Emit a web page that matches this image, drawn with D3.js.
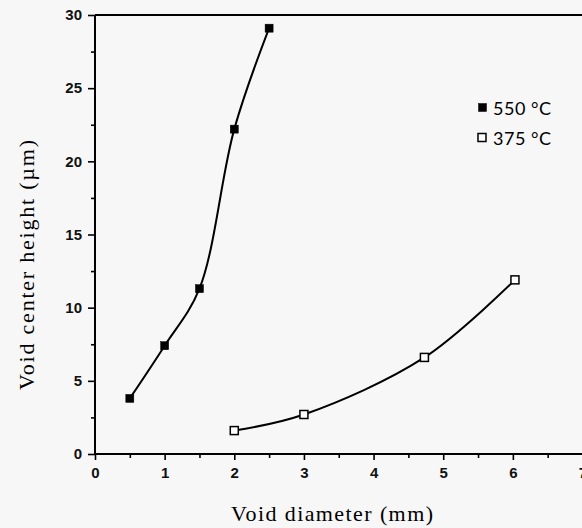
<!DOCTYPE html>
<html>
<head>
<meta charset="utf-8">
<script src="https://cdn.jsdelivr.net/npm/d3@7"></script>
<style>
  body { margin: 0; background: #f7f7f7; }
  svg { display: block; }
</style>
</head>
<body>
<div id="chart"></div>
<script>
let width = 582, height = 528,
    margin = ({ top: 15, right: 0, bottom: 74, left: 95 });

// data
const hot = { label: "550 °C", d: [0.5, 1.0, 1.5, 2.0, 2.5], h: [3.8, 7.4, 11.3, 22.2, 29.1] };
const cool = { label: "375 °C", d: [2.0, 3.0, 4.73, 6.03], h: [1.6, 2.7, 6.6, 11.9] };
const xTicks = [0, 1, 2, 3, 4, 5, 6, 7];
const yTicks = [0, 5, 10, 15, 20, 25, 30];
const xMinor = [0.5, 1.5, 2.5, 3.5, 4.5, 5.5, 6.5];
const yMinor = [2.5, 7.5, 12.5, 17.5, 22.5, 27.5];

const svg = d3.select("#chart")
  .append("svg")
  .attr("width", width)
  .attr("height", height);

let x = d3.scaleLinear()
  .domain([0, 7])
  .range([margin.left, 582 + 0.5]);

let y = d3.scaleLinear()
  .domain([0, 30])
  .range([height - margin.bottom, margin.top]);

// axes
const xAxis = svg.append("g")
  .attr("transform", `translate(0,${y(0)})`)
  .call(d3.axisBottom(x).tickValues(xTicks).tickFormat(d3.format("d")).tickSize(6).tickPadding(7));

svg.append("g")
  .attr("transform", `translate(0,${y(0)})`)
  .call(d3.axisBottom(x).tickValues(xMinor).tickFormat("").tickSize(4))
  .call(g => g.select(".domain").remove());

const yAxis = svg.append("g")
  .attr("transform", `translate(${margin.left},0)`)
  .call(d3.axisLeft(y).tickValues(yTicks).tickSize(7).tickPadding(6));

svg.append("g")
  .attr("transform", `translate(${margin.left},0)`)
  .call(d3.axisLeft(y).tickValues(yMinor).tickFormat("").tickSize(4))
  .call(g => g.select(".domain").remove());

svg.selectAll(".domain").attr("stroke-width", 2).attr("d", null);
xAxis.select(".domain").attr("d", `M${x(0)},0H${x(7)}`);
yAxis.select(".domain").attr("d", `M0,${y(0)}V${y(30)}`);
svg.selectAll(".tick line").attr("stroke-width", 1.6);
svg.selectAll(".tick text")
  .attr("font-family", "'Liberation Sans', Arial, sans-serif")
  .attr("font-weight", "bold")
  .attr("font-size", 15)
  .attr("fill", "#111");

// top border
svg.append("line")
  .attr("x1", x(0)).attr("x2", width)
  .attr("y1", y(30)).attr("y2", y(30))
  .attr("stroke", "black")
  .attr("stroke-width", 2);

// axis titles
svg.append("text")
  .attr("x", 332)
  .attr("y", 521)
  .attr("text-anchor", "middle")
  .attr("font-family", "'Liberation Serif', 'Times New Roman', serif")
  .attr("font-size", 22)
  .attr("textLength", 202)
  .attr("lengthAdjust", "spacing")
  .text("Void diameter (mm)");

svg.append("text")
  .attr("transform", "translate(34,265) rotate(-90)")
  .attr("text-anchor", "middle")
  .attr("font-family", "'Liberation Serif', 'Times New Roman', serif")
  .attr("font-size", 22)
  .attr("textLength", 250)
  .attr("lengthAdjust", "spacing")
  .text("Void center height (µm)");

// curves
const line = d3.line()
  .x(d => x(d[0]))
  .y(d => y(d[1]))
  .curve(d3.curveCatmullRom.alpha(0.5));

[hot, cool].forEach((s, i) => {
  const pts = d3.zip(s.d, s.h);
  svg.append("path")
    .datum(pts)
    .attr("d", line)
    .attr("fill", "none")
    .attr("stroke", "black")
    .attr("stroke-width", 2);

  svg.append("g")
    .selectAll("rect")
    .data(pts)
    .join("rect")
    .attr("x", d => x(d[0]) - 4)
    .attr("y", d => y(d[1]) - 4)
    .attr("width", 8)
    .attr("height", 8)
    .attr("fill", i == 0 ? "black" : "white")
    .attr("stroke", "black")
    .attr("stroke-width", i == 0 ? 0.5 : 1.5);
});

// legend
const legend = svg.append("g")
  .selectAll("g")
  .data([hot, cool])
  .join("g")
  .attr("transform", (d, i) => `translate(478,${103 + i * 30})`);

legend.append("rect")
  .attr("x", (d, i) => i == 0 ? 0.5 : 0)
  .attr("y", 0.5)
  .attr("width", 8)
  .attr("height", 8)
  .attr("fill", (d, i) => i == 0 ? "black" : "white")
  .attr("stroke", "black")
  .attr("stroke-width", (d, i) => i == 0 ? 0.5 : 1.5);

legend.append("text")
  .attr("x", 15)
  .attr("y", 12)
  .attr("font-family", "Lato, 'Open Sans', sans-serif")
  .attr("font-size", 18)
  .attr("textLength", 58)
  .attr("lengthAdjust", "spacing")
  .text(d => d.label);
</script>
</body>
</html>
